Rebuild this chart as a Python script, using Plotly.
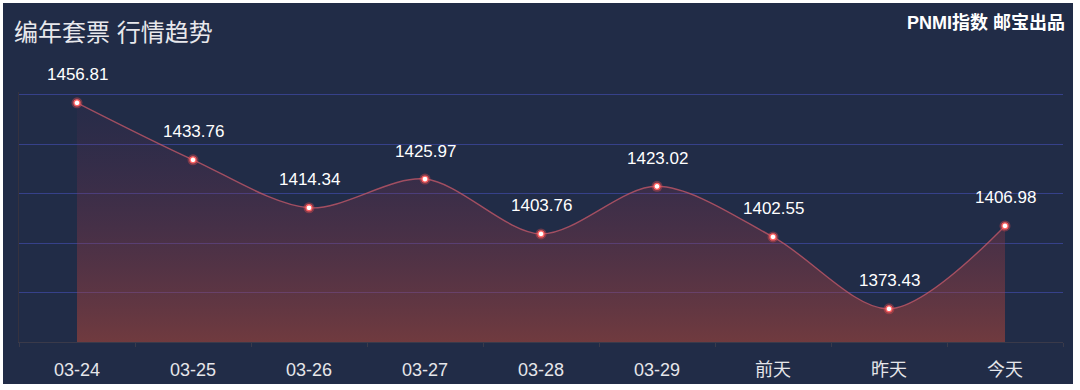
import plotly.graph_objects as go

categories = ["03-24", "03-25", "03-26", "03-27", "03-28", "03-29", "前天", "昨天", "今天"]
values = [1456.81, 1433.76, 1414.34, 1425.97, 1403.76, 1423.02, 1402.55, 1373.43, 1406.98]
value_labels = ["1456.81", "1433.76", "1414.34", "1425.97", "1403.76", "1423.02", "1402.55", "1373.43", "1406.98"]
y_ticks = [1360, 1380, 1400, 1420, 1440, 1460]

BG = "#212c47"
FONT = "Liberation Sans, Noto Sans CJK SC, sans-serif"

# plot area geometry (pixels)
L, R, T, B = 19, 17, 92, 48
PW = 1080 - L - R
PH = 390 - T - B
Y0, Y1 = 1360, 1461.2


def px_x(px):
    return (px - L) / PW


def px_y(py):
    return (390 - B - py) / PH


fig = go.Figure()

# area fill + line
fig.add_trace(go.Scatter(
    x=categories, y=values, mode="lines",
    line=dict(color="rgba(200,90,105,0.75)", width=1.4, shape="spline", smoothing=0.9),
    fill="tozeroy",
    fillgradient=dict(type="vertical", start=1360, stop=1460,
                      colorscale=[[0, "rgba(185,72,55,0.52)"], [1, "rgba(120,40,90,0.05)"]]),
    hoverinfo="skip", showlegend=False,
))
# glow
fig.add_trace(go.Scatter(
    x=categories, y=values, mode="markers",
    marker=dict(size=11, color="rgba(255,80,80,0.35)", line=dict(width=0)),
    hoverinfo="skip", showlegend=False,
))
fig.add_trace(go.Scatter(
    x=categories, y=values, mode="markers",
    marker=dict(size=6, color="#ffffff", line=dict(color="#ff6060", width=1.3)),
    showlegend=False,
))

for c, v, t in zip(categories, values, value_labels):
    fig.add_annotation(x=c, y=v, xref="x", yref="y", text=t, showarrow=False,
                       yanchor="middle", yshift=28,
                       font=dict(family=FONT, size=17, color="#ffffff"))

# dark card background
fig.add_shape(type="rect", xref="paper", yref="paper",
              x0=px_x(3), x1=px_x(1073), y0=px_y(384), y1=px_y(3),
              fillcolor=BG, line=dict(width=0), layer="below")

fig.add_annotation(xref="paper", yref="paper", x=px_x(12), y=px_y(32),
                   xanchor="left", yanchor="middle", showarrow=False,
                   text="编年套票 行情趋势",
                   font=dict(family=FONT, size=24, color="#e8e8ec"))
fig.add_annotation(xref="paper", yref="paper", x=px_x(1067), y=px_y(22),
                   xanchor="right", yanchor="middle", showarrow=False,
                   text="<b>PNMI指数 邮宝出品</b>",
                   font=dict(family=FONT, size=18, color="#ffffff"))

fig.update_layout(
    width=1080, height=390,
    margin=dict(l=L, r=R, t=T, b=B),
    paper_bgcolor="#ffffff",
    plot_bgcolor="rgba(0,0,0,0)",
    font=dict(family=FONT, color="#ffffff"),
    showlegend=False,
)
fig.update_xaxes(
    type="category", range=[-0.5, len(categories) - 0.5], automargin=False,
    showgrid=False, showline=True, linecolor="#3a3a4a", linewidth=1,
    ticks="outside", tickson="boundaries", ticklen=4, tickcolor="#3a3a4a",
    ticklabelstandoff=11,
    tickfont=dict(family=FONT, size=18, color="#e6e6ea"),
    zeroline=False, fixedrange=True,
)
fig.update_yaxes(
    range=[Y0, Y1], tickvals=y_ticks, showticklabels=False, automargin=False,
    showgrid=True, gridcolor="#36418a", gridwidth=1,
    showline=True, linecolor="#35323f", linewidth=1,
    zeroline=False, ticks="", fixedrange=True,
)

fig.write_html("out.html", config={"displayModeBar": False},
               post_script="document.body.style.margin='0';document.body.style.overflow='hidden';")
